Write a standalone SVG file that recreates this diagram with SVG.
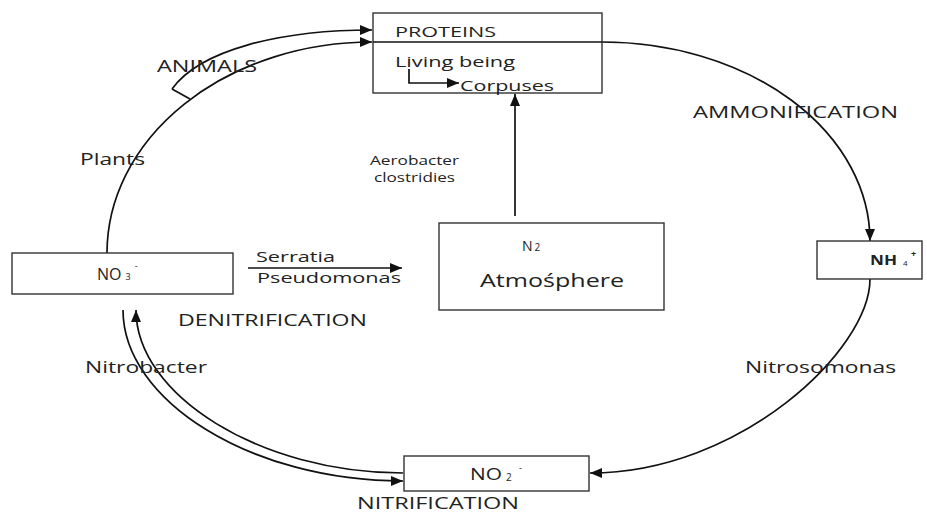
<svg xmlns="http://www.w3.org/2000/svg" width="927" height="513" viewBox="0 0 927 513">
  <style>
    .box { fill: #fff; stroke: #333; stroke-width: 1.4; }
    .t { font-family: "Open Sans", "Liberation Sans", sans-serif; fill: #222; }
    .link { fill: none; stroke: #111; stroke-width: 1.7; }
    .arr { marker-end: url(#head); }
  </style>
  <defs>
    <marker id="head" viewBox="0 0 12 10" refX="12" refY="5" markerWidth="12" markerHeight="10" markerUnits="userSpaceOnUse" orient="auto">
      <path d="M0,0 L12,5 L0,10 Z" fill="#111"/>
    </marker>
  </defs>

  <rect width="927" height="513" fill="#fff"/>

  <!-- connectors -->
  <g id="connectors">
    <!-- plants branch into proteins -->
    <path class="link arr" d="M107,253 A265,211 0 0 1 372,42"/>
    <!-- animals branch -->
    <path class="link arr" d="M172,89 C200,50 280,30 372,30"/>
    <path class="link" d="M172,89 L190,99"/>
    <!-- ammonification: proteins to NH4+ -->
    <path class="link arr" d="M602,42 A268,199 0 0 1 870,241"/>
    <!-- NH4+ to NO2- -->
    <path class="link arr" d="M870,279 C870,350 740,473 590,473"/>
    <!-- nitrification / nitrobacter pair -->
    <path class="link arr" d="M123,310 C123,400 250,481 403,481"/>
    <path class="link arr" d="M403,473 C260,473 136,395 136,310"/>
    <!-- denitrification -->
    <path class="link arr" d="M248,268 L402,268"/>
    <!-- fixation: atmosphere to proteins -->
    <path class="link arr" d="M515,216 L515,94"/>
  </g>

  <!-- nodes -->
  <g id="proteins">
    <rect class="box" x="373" y="13" width="229" height="80"/>
    <line x1="373" y1="42" x2="602" y2="42" stroke="#111" stroke-width="1.7"/>
    <text class="t" x="395" y="37" font-size="14" textLength="101" lengthAdjust="spacingAndGlyphs">PROTEINS</text>
    <text class="t" x="395" y="67" font-size="15" textLength="120" lengthAdjust="spacingAndGlyphs">Living being</text>
    <!-- living being to corpuses -->
    <path class="link arr" d="M409,69 L409,83 L459,83"/>
    <text class="t" x="460" y="91" font-size="15" textLength="94" lengthAdjust="spacingAndGlyphs">Corpuses</text>
  </g>

  <g id="no3">
    <rect class="box" x="12" y="253" width="221" height="41"/>
    <text class="t" x="97" y="280" font-size="16">NO<tspan dx="4" font-size="9">3</tspan><tspan dx="4" dy="-11" font-size="9">-</tspan></text>
  </g>

  <g id="atmosphere">
    <rect class="box" x="439" y="223" width="225" height="87"/>
    <text class="t" x="522" y="251" font-size="14">N<tspan dx="2" font-size="10">2</tspan></text>
    <text class="t" x="480" y="287" font-size="18" textLength="144" lengthAdjust="spacingAndGlyphs">Atmośphere</text>
  </g>

  <g id="nh4">
    <rect class="box" x="817" y="241" width="105" height="38"/>
    <text class="t" x="870" y="265" font-size="14" font-weight="bold" textLength="27" lengthAdjust="spacingAndGlyphs">NH</text>
    <text class="t" x="903" y="266" font-size="8">4</text>
    <text class="t" x="911" y="257" font-size="9" font-weight="bold">+</text>
  </g>

  <g id="no2">
    <rect class="box" x="404" y="456" width="185" height="35"/>
    <text class="t" x="470" y="480" font-size="17" textLength="32" lengthAdjust="spacingAndGlyphs">NO</text>
    <text class="t" x="506" y="481" font-size="10">2</text>
    <text class="t" x="519" y="471" font-size="9">-</text>
  </g>

  <!-- labels -->
  <g id="labels">
    <text class="t" x="157" y="72" font-size="16" textLength="100" lengthAdjust="spacingAndGlyphs">ANIMALS</text>
    <text class="t" x="80" y="165" font-size="16" textLength="65" lengthAdjust="spacingAndGlyphs">Plants</text>
    <text class="t" x="370" y="165" font-size="12" textLength="89" lengthAdjust="spacingAndGlyphs">Aerobacter</text>
    <text class="t" x="374" y="182" font-size="12" textLength="81" lengthAdjust="spacingAndGlyphs">clostridies</text>
    <text class="t" x="693" y="118" font-size="16" textLength="205" lengthAdjust="spacingAndGlyphs">AMMONIFICATION</text>
    <text class="t" x="256" y="262" font-size="15" textLength="79" lengthAdjust="spacingAndGlyphs">Serratia</text>
    <text class="t" x="257" y="283" font-size="15" textLength="144" lengthAdjust="spacingAndGlyphs">Pseudomonas</text>
    <text class="t" x="178" y="326" font-size="16" textLength="189" lengthAdjust="spacingAndGlyphs">DENITRIFICATION</text>
    <text class="t" x="85" y="373" font-size="16" textLength="122" lengthAdjust="spacingAndGlyphs">Nitrobacter</text>
    <text class="t" x="745" y="373" font-size="16" textLength="151" lengthAdjust="spacingAndGlyphs">Nitrosomonas</text>
    <text class="t" x="357" y="509" font-size="16" textLength="162" lengthAdjust="spacingAndGlyphs">NITRIFICATION</text>
  </g>
</svg>
